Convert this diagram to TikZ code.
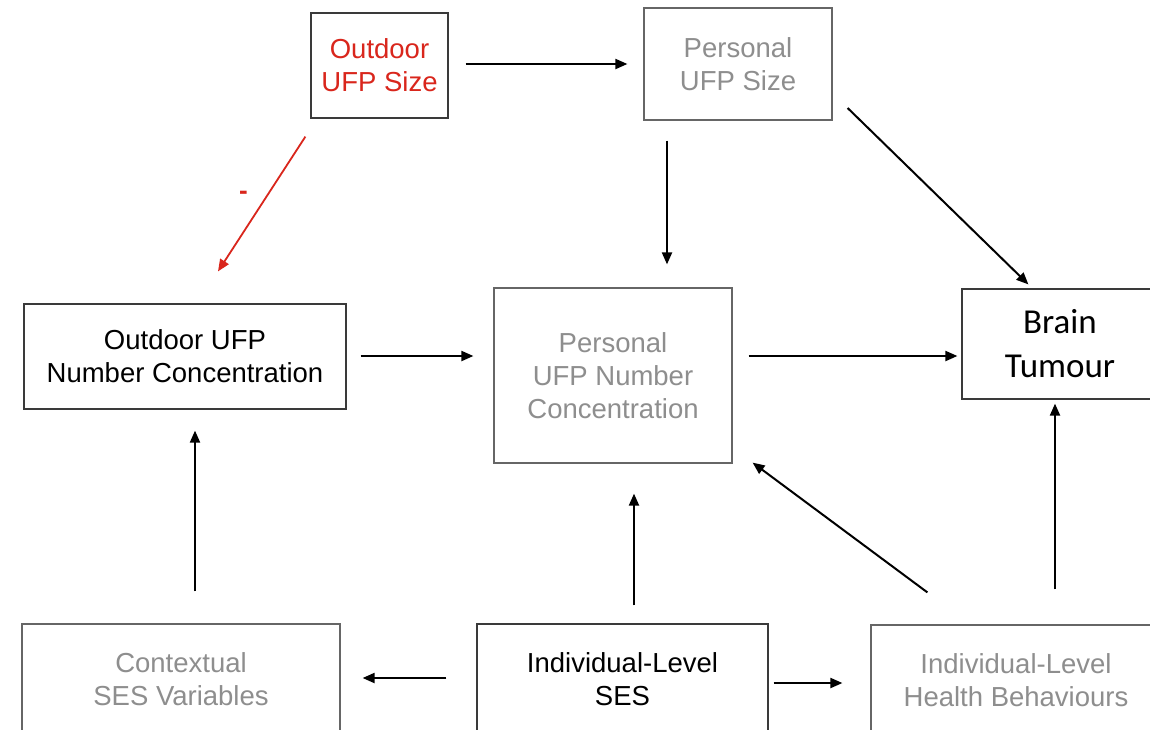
\documentclass[tikz,border=0pt]{standalone}
\usepackage{fontspec}
\setmainfont{Liberation Sans}
\newfontfamily\calfont{Carlito}
\usetikzlibrary{calc,arrows.meta}
\definecolor{grtext}{HTML}{8E8E8E}
\definecolor{redtext}{HTML}{D9261C}
\definecolor{boxline}{HTML}{3A3A3A}
\definecolor{boxlinegr}{HTML}{666666}
\tikzset{
  box/.style={draw=boxline, line width=1.2pt, fill=white, align=center, inner sep=0pt,
    font=\fontsize{27.5}{33}\selectfont},
  greybox/.style={box, draw=boxlinegr, text=grtext},
  arr/.style={line width=2pt, -{Triangle[length=12pt,width=10pt]}},
  redarr/.style={arr, line width=1.8pt, draw=redtext, -{Triangle[length=12pt,width=10pt,fill=redtext]}},
}
\begin{document}
\begin{tikzpicture}[x=1pt,y=-1pt]
\useasboundingbox (0,0) rectangle (1150,729);
\clip (0,0) rectangle (1150,729);
% nodes
\node[box, text=redtext, minimum width=137pt, minimum height=105pt] (osize) at (379.5,65.5) {Outdoor\\UFP Size};
\node[greybox, minimum width=188pt, minimum height=112pt] (psize) at (738,64) {Personal\\UFP Size};
\node[box, minimum width=322pt, minimum height=105pt] (onum) at (185,356.5) {Outdoor UFP\\Number Concentration};
\node[greybox, minimum width=238pt, minimum height=175pt] (pnum) at (613,375.5) {Personal\\UFP Number\\Concentration};
\node[box, minimum width=196pt, minimum height=110pt, font=\calfont\fontsize{35}{44}\selectfont] (brain) at (1060,344) {Brain\\Tumour};
\node[greybox, minimum width=318pt, minimum height=110pt] (ctx) at (181,679) {Contextual\\SES Variables};
\node[box, minimum width=291pt, minimum height=110pt] (ises) at (622.5,679) {Individual-Level\\SES};
\node[greybox, minimum width=290pt, minimum height=110pt] (health) at (1016,680) {Individual-Level\\Health Behaviours};
% connectors
\draw[arr] ($(osize.east)+(17,-1.5)$) -- ($(psize.west)+(-16,0)$);
\draw[redarr] ($(osize.south west)+(-5,18)$) -- ($(onum.north)+(33,-32)$)
  node[pos=0.42, left=20pt, yshift=-2pt, text=redtext, font=\bfseries\fontsize{26}{26}\selectfont, inner sep=0pt] (minus) {-};
\draw[arr] ($(psize.south)+(-71,20)$) -- ($(pnum.north)+(54,-23)$);
\draw[arr] ($(psize.east)+(15,44)$) -- ($(brain.north west)+(67,-4)$);
\draw[arr] ($(onum.east)+(14,-0.5)$) -- ($(pnum.west)+(-20,-19.5)$);
\draw[arr] ($(pnum.east)+(16,-19.5)$) -- ($(brain.west)+(-4,12)$);
\draw[arr] ($(ctx.north)+(14,-32)$) -- ($(onum.south)+(10,21)$);
\draw[arr] ($(ises.north)+(11.5,-18)$) -- ($(pnum.south)+(21,30)$);
\draw[arr] ($(health.north west)+(57,-32)$) -- ($(pnum.south east)+(20,-1)$);
\draw[arr] ($(health.north)+(39,-35)$) -- ($(brain.south)+(-5,4)$);
\draw[arr] ($(ises.west)+(-30,-1)$) -- ($(ctx.east)+(22,-1)$);
\draw[arr] ($(ises.east)+(5,4)$) -- ($(health.west)+(-28,3)$);
\end{tikzpicture}
\end{document}
